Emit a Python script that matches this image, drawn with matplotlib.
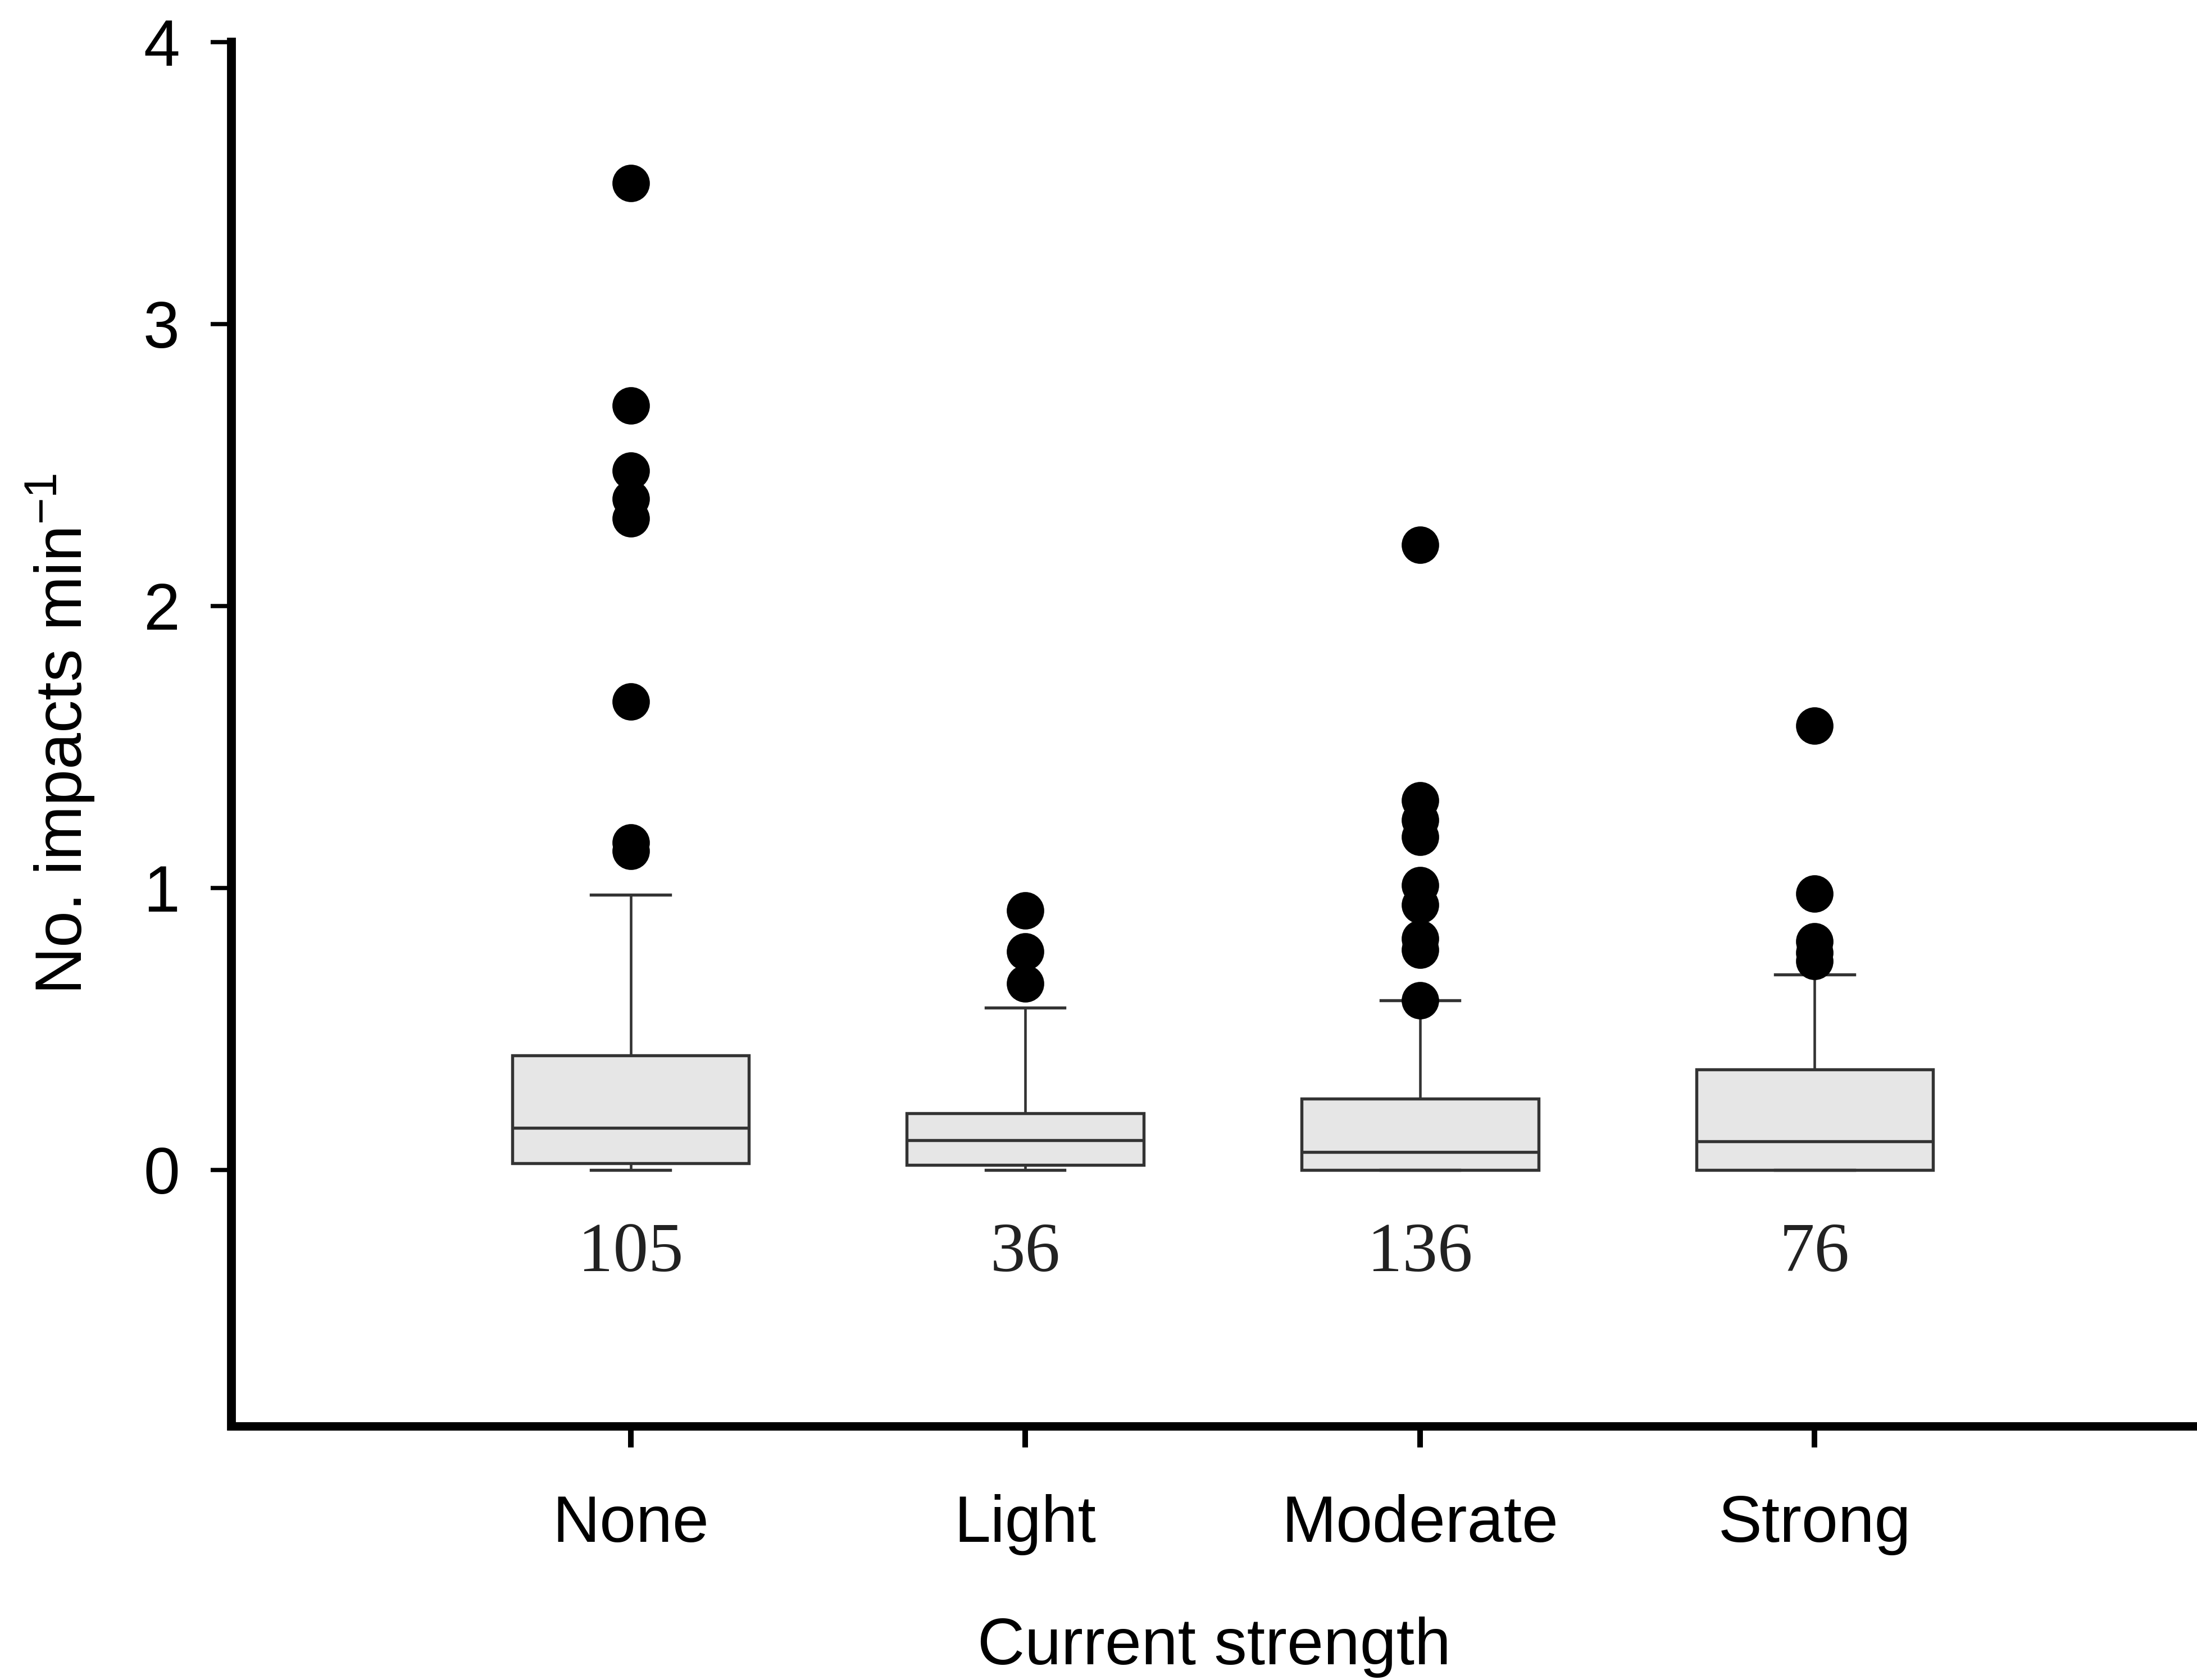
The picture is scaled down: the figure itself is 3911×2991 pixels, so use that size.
import matplotlib
matplotlib.use("Agg")
import matplotlib.pyplot as plt
import numpy as np

plt.rcParams.update({
    "font.family": "sans-serif",
    "font.sans-serif": ["Liberation Sans", "DejaVu Sans"],
    "font.size": 28,
    "mathtext.fontset": "custom",
    "mathtext.rm": "Liberation Sans",
    "mathtext.it": "Liberation Sans:italic",
})

# --- data ---
categories = ["None", "Light", "Moderate", "Strong"]
n_obs = [105, 36, 136, 76]

whis_low = [0.0, 0.0, 0.0, 0.0]
q1 = [0.024, 0.017, 0.0, 0.0]
medians = [0.148, 0.104, 0.063, 0.101]
q3 = [0.406, 0.200, 0.252, 0.356]
whis_high = [0.975, 0.575, 0.600, 0.692]

none_out = [3.50, 2.71, 2.48, 2.38, 2.31, 1.66, 1.16, 1.13]
light_out = [0.92, 0.775, 0.66]
moderate_out = [2.217, 1.31, 1.24, 1.18, 1.01, 0.94, 0.82, 0.78, 0.60]
strong_out = [1.575, 0.979, 0.81, 0.77, 0.74]
outliers = [none_out, light_out, moderate_out, strong_out]

# build the stats dicts for bxp
stats = []
for i, cat in enumerate(categories):
    stats.append({
        "label": cat,
        "whislo": whis_low[i],
        "q1": q1[i],
        "med": medians[i],
        "q3": q3[i],
        "whishi": whis_high[i],
        "fliers": np.array(outliers[i]),
    })

positions = np.arange(1, len(categories) + 1)

fig = plt.figure(figsize=(13.04, 9.97), dpi=300)
ax = fig.add_axes([0.1052, 0.151, 0.8948, 0.824])

ax.bxp(
    stats,
    positions=positions,
    widths=0.6,
    capwidths=0.2,
    patch_artist=True,
    showfliers=True,
    boxprops=dict(facecolor="#e6e6e6", edgecolor="#333333", linewidth=1.3),
    medianprops=dict(color="#333333", linewidth=1.3),
    whiskerprops=dict(color="#333333", linewidth=1.1),
    capprops=dict(color="#333333", linewidth=1.3),
    flierprops=dict(marker="o", markerfacecolor="black", markeredgecolor="black",
                    markersize=15, linestyle="none"),
)

# sample sizes under each box
for pos, n in zip(positions, n_obs):
    ax.text(pos, -0.30, str(n), ha="center", va="center",
            fontsize=30, family=["Liberation Serif", "DejaVu Serif"], color="#222222")

ax.set_xlim(-0.012, 4.97)
ax.set_ylim(-0.91, 4)
ax.set_yticks([0, 1, 2, 3, 4])
ax.set_xticks(positions)
ax.set_xticklabels(categories)

ax.set_xlabel("Current strength", fontsize=28, labelpad=26)
ax.set_ylabel("No. impacts min$^{-1}$", fontsize=28, labelpad=20)

ax.spines["top"].set_visible(False)
ax.spines["right"].set_visible(False)
ax.spines["left"].set_linewidth(3.8)
ax.spines["bottom"].set_linewidth(3.6)
ax.tick_params(axis="y", direction="out", length=9, width=1.8, pad=13, labelsize=28)
ax.tick_params(axis="x", direction="out", length=9, width=2.4, pad=20, labelsize=28)

fig.savefig("out.png", dpi=300, facecolor="white")
